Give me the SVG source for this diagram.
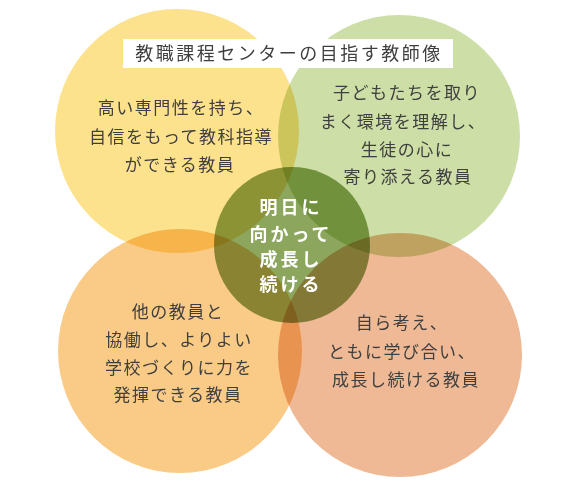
<svg xmlns="http://www.w3.org/2000/svg" width="580" height="480" viewBox="0 0 580 480">
<style>
.c{mix-blend-mode:multiply}
.t{font-family:"Noto Sans CJK JP","Noto Sans",sans-serif;font-size:17px;fill:#3f3f3f;text-anchor:middle;letter-spacing:1.5px}
.w{font-family:"Noto Sans CJK JP","Noto Sans",sans-serif;font-size:18px;font-weight:bold;fill:#ffffff;text-anchor:middle;letter-spacing:3px}
.h{font-family:"Noto Sans CJK JP","Noto Sans",sans-serif;font-size:18px;fill:#3f3f3f;text-anchor:middle;letter-spacing:2.5px}
</style>
<rect width="580" height="480" fill="#ffffff"/>
<g id="yellow"><circle class="c" cx="177" cy="131" r="122" fill="#FDE28D"/></g>
<g id="green"><circle class="c" cx="399" cy="136" r="121" fill="#CDDFA6"/></g>
<g id="orange"><circle class="c" cx="180" cy="351" r="122" fill="#F9CB87"/></g>
<g id="salmon"><circle class="c" cx="400" cy="355" r="122" fill="#EEB994"/></g>
<g id="center"><circle class="c" cx="292" cy="245" r="78" fill="#8DA65E"/></g>
<g id="connectors"></g>
<g id="title">
<rect x="123" y="39" width="330" height="29" fill="#ffffff"/>
<text class="h" x="289" y="60">教職課程センターの目指す教師像</text>
</g>
<g id="yellow-text">
<text class="t" x="181" y="114">高い専門性を持ち、</text>
<text class="t" x="181" y="143">自信をもって教科指導</text>
<text class="t" x="180" y="171">ができる教員</text>
</g>
<g id="green-text">
<text class="t" x="407" y="99">子どもたちを取り</text>
<text class="t" x="403" y="128">まく環境を理解し、</text>
<text class="t" x="407" y="156">生徒の心に</text>
<text class="t" x="408" y="183">寄り添える教員</text>
</g>
<g id="center-text">
<text class="w" x="291" y="214">明日に</text>
<text class="w" x="291" y="241">向かって</text>
<text class="w" x="291" y="266">成長し</text>
<text class="w" x="291" y="291">続ける</text>
</g>
<g id="orange-text">
<text class="t" x="178" y="318">他の教員と</text>
<text class="t" x="179" y="346">協働し、よりよい</text>
<text class="t" x="179" y="374">学校づくりに力を</text>
<text class="t" x="178" y="401">発揮できる教員</text>
</g>
<g id="salmon-text">
<text class="t" x="402" y="329">自ら考え、</text>
<text class="t" x="402" y="358">ともに学び合い、</text>
<text class="t" x="406" y="386">成長し続ける教員</text>
</g>
</svg>
